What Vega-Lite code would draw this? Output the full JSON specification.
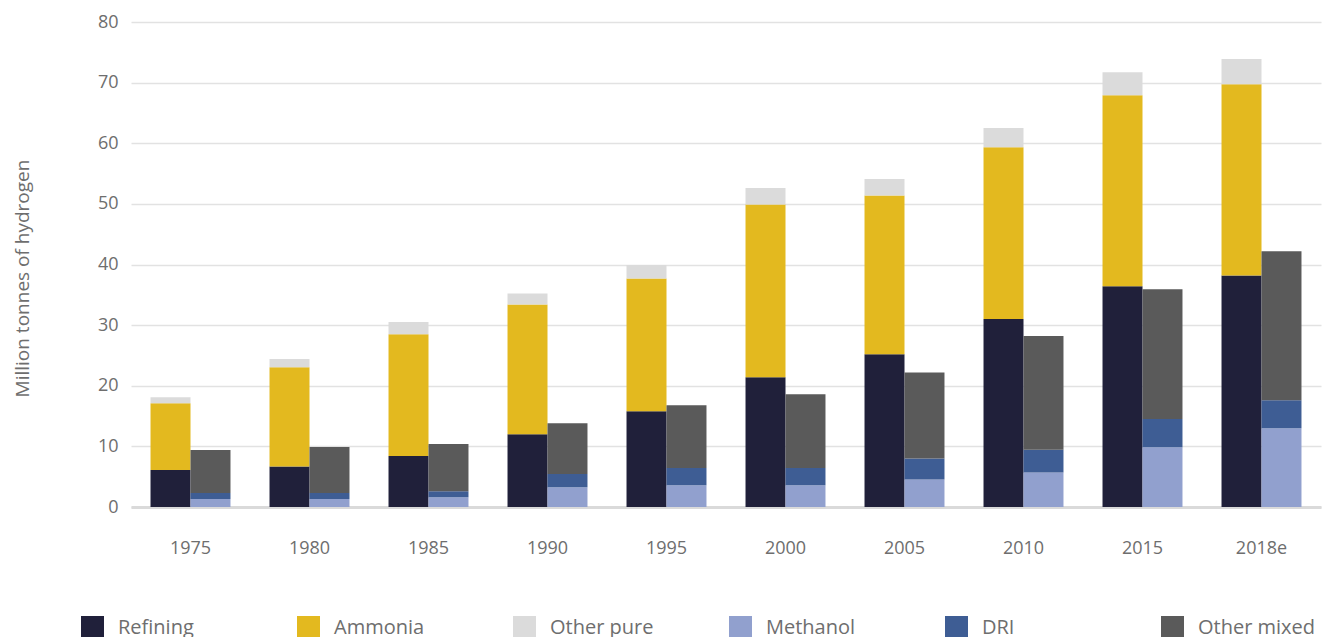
{
  "$schema": "https://vega.github.io/schema/vega-lite/v6.json",
  "width": 1190,
  "height": 485,
  "autosize": {"type": "none"},
  "padding": {"left": 131, "top": 22, "right": 5, "bottom": 130},
  "background": "white",
  "config": {
    "font": "Open Sans",
    "view": {"stroke": null}
  },
  "data": {
    "values": [
      {"year": "1975", "bar": "pure", "type": "Refining", "value": 6.1},
      {"year": "1975", "bar": "pure", "type": "Ammonia", "value": 11.0},
      {"year": "1975", "bar": "pure", "type": "Other pure", "value": 1.0},
      {"year": "1975", "bar": "mixed", "type": "Methanol", "value": 1.3},
      {"year": "1975", "bar": "mixed", "type": "DRI", "value": 1.0},
      {"year": "1975", "bar": "mixed", "type": "Other mixed", "value": 7.1},

      {"year": "1980", "bar": "pure", "type": "Refining", "value": 6.7},
      {"year": "1980", "bar": "pure", "type": "Ammonia", "value": 16.35},
      {"year": "1980", "bar": "pure", "type": "Other pure", "value": 1.35},
      {"year": "1980", "bar": "mixed", "type": "Methanol", "value": 1.3},
      {"year": "1980", "bar": "mixed", "type": "DRI", "value": 1.0},
      {"year": "1980", "bar": "mixed", "type": "Other mixed", "value": 7.6},

      {"year": "1985", "bar": "pure", "type": "Refining", "value": 8.4},
      {"year": "1985", "bar": "pure", "type": "Ammonia", "value": 20.1},
      {"year": "1985", "bar": "pure", "type": "Other pure", "value": 2.0},
      {"year": "1985", "bar": "mixed", "type": "Methanol", "value": 1.6},
      {"year": "1985", "bar": "mixed", "type": "DRI", "value": 1.0},
      {"year": "1985", "bar": "mixed", "type": "Other mixed", "value": 7.8},

      {"year": "1990", "bar": "pure", "type": "Refining", "value": 12.0},
      {"year": "1990", "bar": "pure", "type": "Ammonia", "value": 21.4},
      {"year": "1990", "bar": "pure", "type": "Other pure", "value": 1.8},
      {"year": "1990", "bar": "mixed", "type": "Methanol", "value": 3.25},
      {"year": "1990", "bar": "mixed", "type": "DRI", "value": 2.2},
      {"year": "1990", "bar": "mixed", "type": "Other mixed", "value": 8.35},

      {"year": "1995", "bar": "pure", "type": "Refining", "value": 15.8},
      {"year": "1995", "bar": "pure", "type": "Ammonia", "value": 21.9},
      {"year": "1995", "bar": "pure", "type": "Other pure", "value": 2.2},
      {"year": "1995", "bar": "mixed", "type": "Methanol", "value": 3.6},
      {"year": "1995", "bar": "mixed", "type": "DRI", "value": 2.85},
      {"year": "1995", "bar": "mixed", "type": "Other mixed", "value": 10.35},

      {"year": "2000", "bar": "pure", "type": "Refining", "value": 21.4},
      {"year": "2000", "bar": "pure", "type": "Ammonia", "value": 28.5},
      {"year": "2000", "bar": "pure", "type": "Other pure", "value": 2.7},
      {"year": "2000", "bar": "mixed", "type": "Methanol", "value": 3.6},
      {"year": "2000", "bar": "mixed", "type": "DRI", "value": 2.85},
      {"year": "2000", "bar": "mixed", "type": "Other mixed", "value": 12.15},

      {"year": "2005", "bar": "pure", "type": "Refining", "value": 25.2},
      {"year": "2005", "bar": "pure", "type": "Ammonia", "value": 26.2},
      {"year": "2005", "bar": "pure", "type": "Other pure", "value": 2.7},
      {"year": "2005", "bar": "mixed", "type": "Methanol", "value": 4.55},
      {"year": "2005", "bar": "mixed", "type": "DRI", "value": 3.45},
      {"year": "2005", "bar": "mixed", "type": "Other mixed", "value": 14.2},

      {"year": "2010", "bar": "pure", "type": "Refining", "value": 31.0},
      {"year": "2010", "bar": "pure", "type": "Ammonia", "value": 28.35},
      {"year": "2010", "bar": "pure", "type": "Other pure", "value": 3.15},
      {"year": "2010", "bar": "mixed", "type": "Methanol", "value": 5.7},
      {"year": "2010", "bar": "mixed", "type": "DRI", "value": 3.75},
      {"year": "2010", "bar": "mixed", "type": "Other mixed", "value": 18.75},

      {"year": "2015", "bar": "pure", "type": "Refining", "value": 36.4},
      {"year": "2015", "bar": "pure", "type": "Ammonia", "value": 31.5},
      {"year": "2015", "bar": "pure", "type": "Other pure", "value": 3.8},
      {"year": "2015", "bar": "mixed", "type": "Methanol", "value": 9.85},
      {"year": "2015", "bar": "mixed", "type": "DRI", "value": 4.65},
      {"year": "2015", "bar": "mixed", "type": "Other mixed", "value": 21.4},

      {"year": "2018e", "bar": "pure", "type": "Refining", "value": 38.2},
      {"year": "2018e", "bar": "pure", "type": "Ammonia", "value": 31.55},
      {"year": "2018e", "bar": "pure", "type": "Other pure", "value": 4.15},
      {"year": "2018e", "bar": "mixed", "type": "Methanol", "value": 13.0},
      {"year": "2018e", "bar": "mixed", "type": "DRI", "value": 4.6},
      {"year": "2018e", "bar": "mixed", "type": "Other mixed", "value": 24.6}
    ]
  },
  "transform": [
    {
      "calculate": "indexof(['Refining', 'Ammonia', 'Other pure', 'Methanol', 'DRI', 'Other mixed'], datum.type)",
      "as": "stackRank"
    }
  ],
  "mark": {"type": "bar"},
  "encoding": {
    "x": {
      "field": "year",
      "type": "nominal",
      "sort": null,
      "scale": {"paddingInner": 0.328, "paddingOuter": 0.164},
      "axis": {
        "title": null,
        "labelAngle": 0,
        "labelFontSize": 18,
        "labelColor": "#6e6e6e",
        "labelPadding": 32,
        "ticks": false,
        "domainColor": "#dadada",
        "domainWidth": 3
      }
    },
    "xOffset": {
      "field": "bar",
      "type": "nominal",
      "sort": ["pure", "mixed"],
      "scale": {"paddingInner": 0, "paddingOuter": 0}
    },
    "y": {
      "field": "value",
      "type": "quantitative",
      "stack": "zero",
      "scale": {"domain": [0, 80], "nice": false},
      "axis": {
        "values": [0, 10, 20, 30, 40, 50, 60, 70, 80],
        "title": "Million tonnes of hydrogen",
        "titleFontSize": 19,
        "titleFontWeight": "normal",
        "titleColor": "#6e6e6e",
        "titleAngle": -90,
        "titleAlign": "center",
        "titleBaseline": "middle",
        "titleX": -109,
        "titleY": 256,
        "labelFontSize": 18,
        "labelColor": "#6e6e6e",
        "labelPadding": 13,
        "ticks": false,
        "domain": false,
        "grid": true,
        "gridColor": "#e2e2e2",
        "gridWidth": 1.5
      }
    },
    "order": {"field": "stackRank", "type": "quantitative", "sort": "ascending"},
    "color": {
      "field": "type",
      "type": "nominal",
      "sort": ["Refining", "Ammonia", "Other pure", "Methanol", "DRI", "Other mixed"],
      "scale": {
        "domain": ["Refining", "Ammonia", "Other pure", "Methanol", "DRI", "Other mixed"],
        "range": ["#20203a", "#e3b91f", "#dbdbdb", "#91a0ce", "#3e5d94", "#5a5a5a"]
      },
      "legend": {
        "title": null,
        "orient": "none",
        "legendX": -50,
        "legendY": 594,
        "direction": "horizontal",
        "columns": 6,
        "gridAlign": "all",
        "columnPadding": 61,
        "symbolType": "square",
        "symbolSize": 529,
        "symbolStrokeWidth": 0,
        "labelFontSize": 20,
        "labelColor": "#6e6e6e",
        "labelOffset": 14,
        "labelLimit": 300
      }
    }
  }
}
